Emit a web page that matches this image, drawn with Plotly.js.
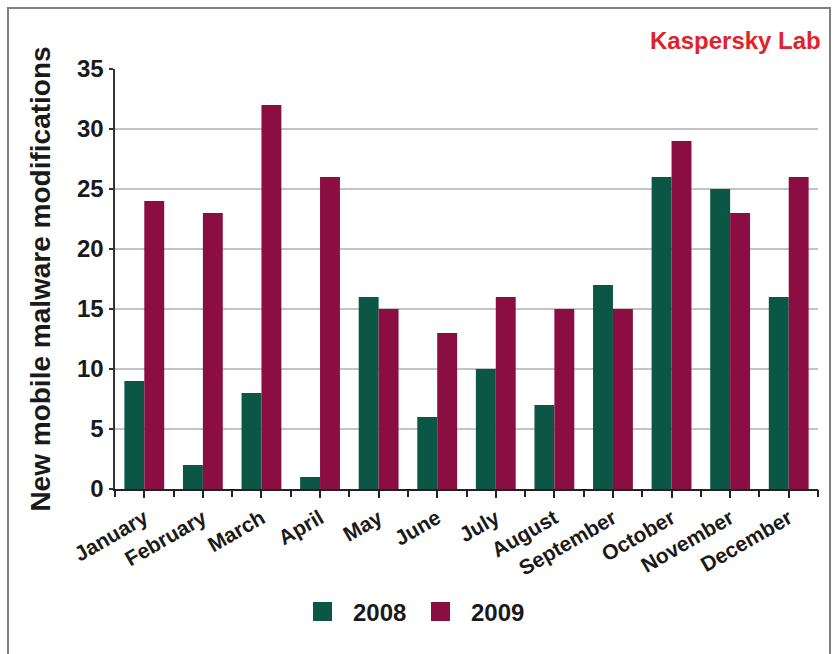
<!DOCTYPE html>
<html>
<head>
<meta charset="utf-8">
<script src="https://cdn.plot.ly/plotly-3.0.1.min.js"></script>
<style>
  html, body { margin: 0; padding: 0; background: #fff; }
  #wrap { position: relative; width: 835px; height: 654px; overflow: hidden; }
  #chart { width: 835px; height: 654px; }
  #frame { position: absolute; left: 7px; top: 7px; width: 820px; height: 670px;
           border: 2px solid #808080; pointer-events: none; }
</style>
</head>
<body>
<div id="wrap">
  <div id="chart"></div>
  <div id="frame"></div>
</div>
<script>
const months = ["January", "February", "March", "April", "May", "June",
                "July", "August", "September", "October", "November", "December"];
const seriesNames = ["2008", "2009"];
const values2008 = [9, 2, 8, 1, 16, 6, 10, 7, 17, 26, 25, 16];
const values2009 = [24, 23, 32, 26, 15, 13, 16, 15, 15, 29, 23, 26];
const yTicks = [0, 5, 10, 15, 20, 25, 30, 35];

const colors = ["#0c5646", "#8b0e42"];
const FONT = "Liberation Sans, Arial, sans-serif";

const traces = [
  { type: "bar", name: seriesNames[0], x: months, y: values2008,
    marker: { color: colors[0] }, showlegend: false, hoverinfo: "x+y+name" },
  { type: "bar", name: seriesNames[1], x: months, y: values2009,
    marker: { color: colors[1] }, showlegend: false, hoverinfo: "x+y+name" },
  // helper trace for boundary ticks axis
  { type: "scatter", mode: "markers", x: months, y: values2008.map(() => 0),
    xaxis: "x2", yaxis: "y", marker: { opacity: 0, size: 1 },
    showlegend: false, hoverinfo: "skip" }
];

// manual legend (squares + labels)
const legX = [313, 431];
const shapes = [];
const annotations = [];
seriesNames.forEach((n, i) => {
  shapes.push({ type: "rect", xref: "paper", yref: "paper",
    x0: (legX[i] - 115) / 703, x1: (legX[i] + 19 - 115) / 703,
    y0: (489 - 621) / 420, y1: (489 - 602) / 420,
    fillcolor: colors[i], line: { width: 0 } });
  annotations.push({ xref: "paper", yref: "paper",
    x: (legX[i] + 38 - 115) / 703, y: (489 - 612) / 420,
    xanchor: "left", yanchor: "middle", showarrow: false,
    text: "<b>" + n + "</b>", font: { family: FONT, size: 24, color: "#1a1a1a" } });
});
annotations.push({ xref: "paper", yref: "paper",
  x: (823 - 115) / 703, y: (489 - 40) / 420, xanchor: "right", yanchor: "middle",
  showarrow: false, text: "<b>Kaspersky Lab</b>",
  font: { family: FONT, size: 24, color: "#e0222c" } });

const layout = {
  width: 835, height: 654,
  margin: { l: 115, r: 17, t: 69, b: 165, pad: 0 },
  paper_bgcolor: "#ffffff", plot_bgcolor: "#ffffff",
  barmode: "group", bargap: 0.32, bargroupgap: 0,
  font: { family: FONT, color: "#1a1a1a" },
  xaxis: {
    type: "category", categoryorder: "array", categoryarray: months,
    range: [-0.5, 11.5], showgrid: false, zeroline: false,
    showline: true, linecolor: "#222", linewidth: 2,
    ticks: "outside", ticklen: 7, tickwidth: 2, tickcolor: "#222",
    tickangle: -30, tickfont: { family: FONT, size: 21, color: "#1a1a1a", weight: "bold" },
    fixedrange: true
  },
  xaxis2: {
    type: "category", categoryorder: "array", categoryarray: months,
    overlaying: "x", anchor: "y", range: [-0.5, 11.5],
    tickson: "boundaries", ticks: "outside", ticklen: 7, tickwidth: 2, tickcolor: "#222",
    showticklabels: false, showgrid: false, zeroline: false, showline: false
  },
  yaxis: {
    range: [0, 35], tickvals: yTicks, showgrid: true, gridcolor: "#c4c4c4", gridwidth: 1.5,
    zeroline: false, showline: true, linecolor: "#333", linewidth: 2.5,
    ticks: "outside", ticklen: 4, tickwidth: 1.5, tickcolor: "#333",
    tickfont: { family: FONT, size: 24, color: "#1a1a1a", weight: "bold" },
    title: { text: "<b>New mobile malware modifications</b>", standoff: 18,
             font: { family: FONT, size: 28, color: "#1a1a1a" } },
    fixedrange: true
  },
  shapes: shapes,
  annotations: annotations,
  showlegend: false
};

Plotly.newPlot("chart", traces, layout, { displayModeBar: false, staticPlot: true });
</script>
</body>
</html>
